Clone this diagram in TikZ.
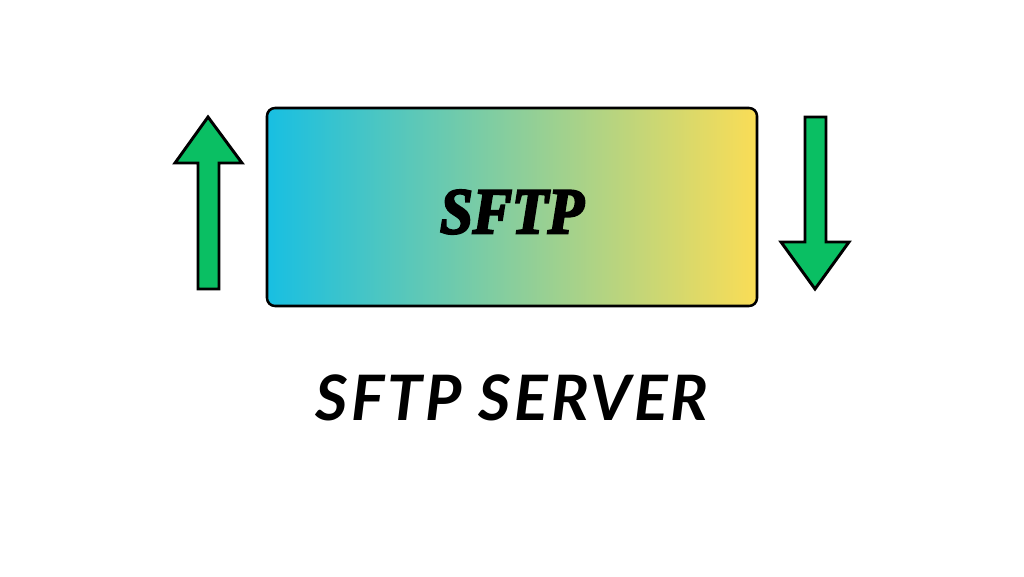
\documentclass[tikz,border=0pt]{standalone}
\usepackage{fontspec}
\setmainfont{Liberation Serif}
\newfontfamily\boxfont{Liberation Serif}[FakeBold=3.5,FakeStretch=0.9]
\newfontfamily\captionfont{Lato}[LetterSpace=5]
\definecolor{arrowgreen}{HTML}{0ABF63}
\definecolor{boxblue}{HTML}{18BFE2}
\definecolor{boxyellow}{HTML}{FADD56}
\tikzset{
  updown/.style={draw=black, fill=arrowgreen, line width=2.2pt, line join=miter},
  gradbox/.style={draw=black, line width=1.9pt, rounded corners=6pt, left color=boxblue,
    right color=boxyellow, minimum width=367.5pt, minimum height=148.5pt, inner sep=0pt},
  boxtext/.style={inner sep=0pt, font=\boxfont\fontsize{49}{49}\selectfont\bfseries\itshape},
  caption/.style={inner sep=0pt, font=\captionfont\fontsize{47}{47}\selectfont\bfseries\itshape}
}

\begin{document}
\begin{tikzpicture}[x=0.75pt, y=0.75pt]
\useasboundingbox (0,0) rectangle (1024,576);
\fill[white] (0,0) rectangle (1024,576);

\node[gradbox] (sftpbox) at (512,369) {};
\node[boxtext] (sftptext) at (512,364) {SFTP};
\node[caption] (servername) at (512,178) {SFTP SERVER};

% left arrow goes up, right arrow goes down
\draw[updown] (208,459) -- (242,413) -- (219,413) -- (219,287) -- (198,287) -- (198,413) -- (175,413) -- cycle;
\draw[updown] (815,287) -- (849,334) -- (826,334) -- (826,459) -- (805,459) -- (805,334) -- (781,334) -- cycle;
\end{tikzpicture}
\end{document}
